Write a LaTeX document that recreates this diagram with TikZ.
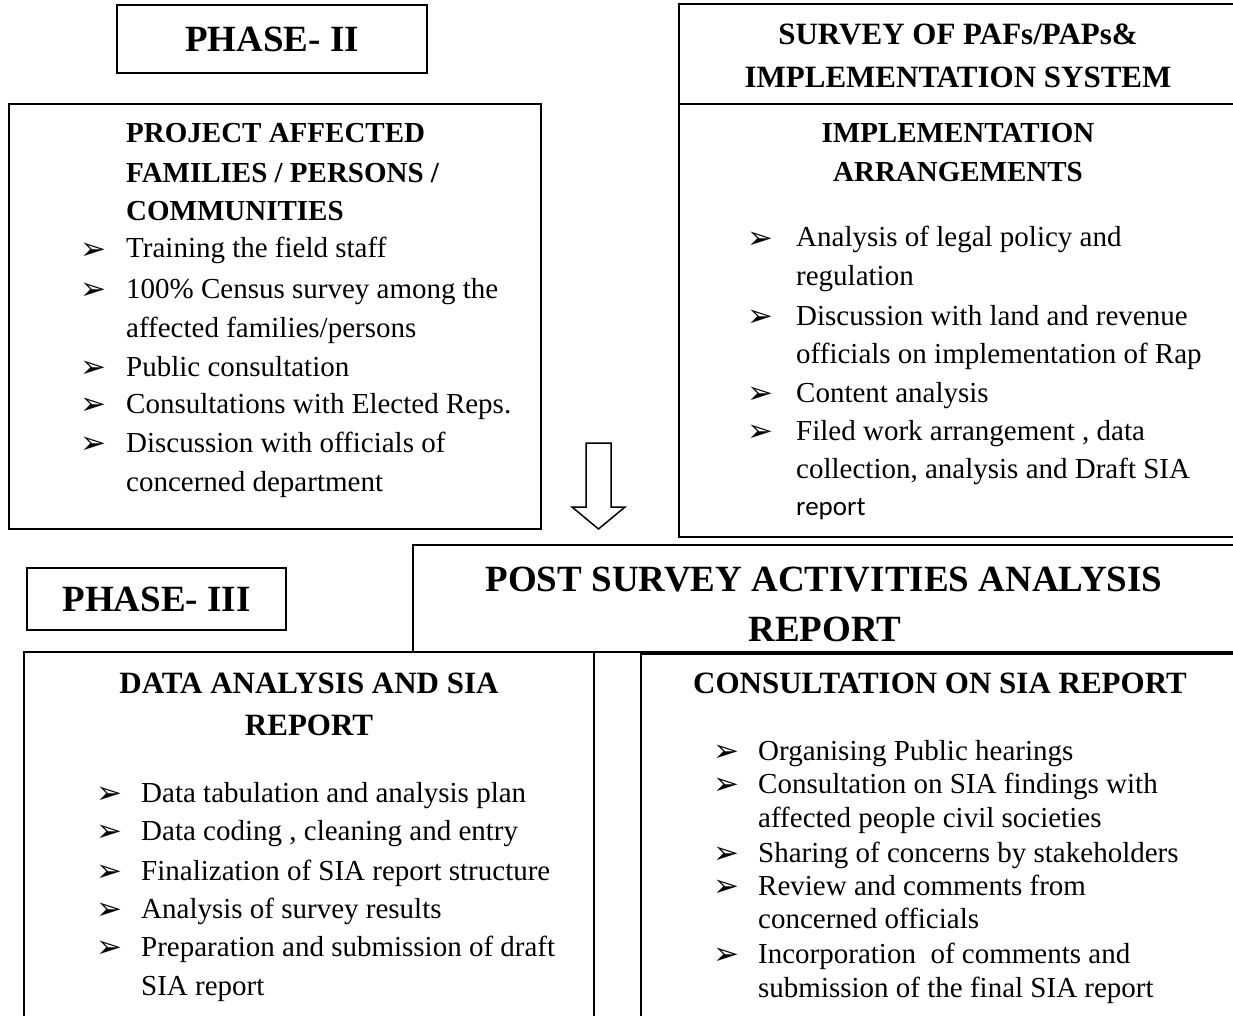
\documentclass[tikz,border=0pt]{standalone}
\usepackage{fontspec}
\setmainfont{Liberation Serif}
\newfontfamily\symf{DejaVu Sans}
\newfontfamily\calf{Carlito}
\begin{document}
\begin{tikzpicture}[x=1pt,y=-1pt,
  frame/.style={draw=black,line width=1.8pt},
  body/.style={anchor=base west,inner sep=0pt,font=\fontsize{29}{34}\selectfont},
  hl/.style={anchor=base west,inner sep=0pt,font=\fontsize{29}{34}\selectfont\bfseries},
  hc/.style={anchor=base,inner sep=0pt,font=\fontsize{#1}{40}\selectfont\bfseries},
  bul/.style={anchor=base west,inner sep=0pt,font=\symf\fontsize{31}{34}\selectfont}]
\useasboundingbox (0,0) rectangle (1233,1016);
\clip (0,0) rectangle (1233,1016);
\fill[white] (0,0) rectangle (1233,1016);

% ---------- frames ----------
\draw[frame] (117,5) rectangle (427,73);
\draw[frame] (9,104) rectangle (541,529);
\draw[frame] (679,4) rectangle (1245,537);
\draw[frame] (679,104) -- (1245,104);
\draw[frame] (413,545) rectangle (1245,652);
\draw[frame] (27,568) rectangle (286,630);
\draw[frame] (24,652) rectangle (594,1030);
\draw[frame] (641,654) rectangle (1245,1030);

% ---------- block arrow ----------
\coordinate (atop) at (598.5,443);
\coordinate (atip) at (598.5,529);
\draw[draw=black,line width=1.5pt,fill=white,line join=miter]
  (586,443) -- (611,443) -- (611,507) -- (625,507) -- (atip) -- (572,507) -- (586,507) -- cycle;

% ---------- titles ----------
\node[hc=37] (ph2) at (272,52) {PHASE- II};
\node[hc=37] (ph3) at (156.5,611) {PHASE- III};
\node[hc=37] (post1) at (824,591) {POST SURVEY ACTIVITIES ANALYSIS};
\node[hc=37] (post2) at (825,641) {REPORT};

% ---------- project affected ----------
\node[hl] (paf1) at (126,143) {PROJECT AFFECTED};
\node[hl] (paf2) at (126,183) {FAMILIES / PERSONS /};
\node[hl] (paf3) at (126,221) {COMMUNITIES};
\foreach \y/\t [count=\i] in {258/{Training the field staff},
  298/{100\% Census survey among the},
  337/{affected families/persons},
  376/{Public consultation},
  413/{Consultations with Elected Reps.},
  452/{Discussion with officials of},
  491/{concerned department}}
  \node[body] (pafl\i) at (126,\y) {\t};
\foreach \y [count=\i] in {258,298,376,413,452}
  \node[bul] (pafb\i) at (80,\y+1) {➢};

% ---------- survey / implementation ----------
\node[hc=31] (sv1) at (958,45) {SURVEY OF PAFs/PAPs\&};
\node[hc=31] (sv2) at (958,88) {IMPLEMENTATION SYSTEM};
\node[hc=29] (im1) at (958,143) {IMPLEMENTATION};
\node[hc=29] (im2) at (958,182) {ARRANGEMENTS};
\foreach \y/\t [count=\i] in {247/{Analysis of legal policy and},
  285/{regulation},
  325/{Discussion with land and revenue},
  363/{officials on implementation of Rap},
  402/{Content analysis},
  440/{Filed work arrangement , data},
  478/{collection, analysis and Draft SIA}}
  \node[body] (iml\i) at (796,\y) {\t};
\node[body,font=\calf\fontsize{27}{32}\selectfont] (iml8) at (796,515) {report};
\foreach \y [count=\i] in {247,325,402,440}
  \node[bul] (imb\i) at (747,\y+1) {➢};

% ---------- data analysis ----------
\node[hc=31] (da1) at (309,693) {DATA ANALYSIS AND SIA};
\node[hc=31] (da2) at (309,735) {REPORT};
\foreach \y/\t [count=\i] in {802/{Data tabulation and analysis plan},
  840/{Data coding , cleaning and entry},
  880/{Finalization of SIA report structure},
  918/{Analysis of survey results},
  956/{Preparation and submission of draft},
  995/{SIA report}}
  \node[body] (dal\i) at (141,\y) {\t};
\foreach \y [count=\i] in {802,840,880,918,956}
  \node[bul] (dab\i) at (96,\y+1) {➢};

% ---------- consultation ----------
\node[hc=31] (cs1) at (940,693) {CONSULTATION ON SIA REPORT};
\foreach \y/\t [count=\i] in {760/{Organising Public hearings},
  793/{Consultation on SIA findings with},
  827/{affected people civil societies},
  862/{Sharing of concerns by stakeholders},
  895/{Review and comments from},
  928/{concerned officials},
  963/{Incorporation\ \ of comments and},
  997/{submission of the final SIA report}}
  \node[body] (csl\i) at (758,\y) {\t};
\foreach \y [count=\i] in {760,793,862,895,963}
  \node[bul] (csb\i) at (713,\y+1) {➢};
\end{tikzpicture}
\end{document}
